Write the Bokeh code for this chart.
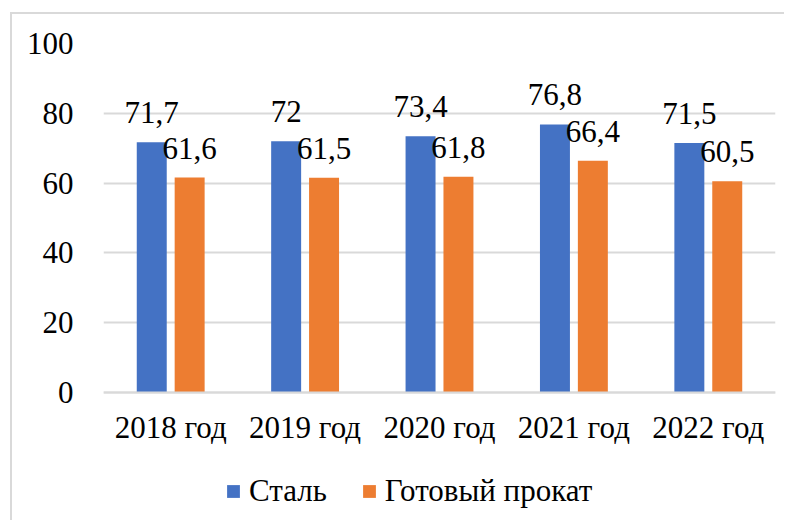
from bokeh.plotting import figure
from bokeh.models import ColumnDataSource, FactorRange, FixedTicker, LabelSet, Legend, LegendItem, Range1d
from bokeh.transform import dodge
from bokeh.embed import file_html
from bokeh.resources import INLINE

categories = ["2018 год", "2019 год", "2020 год", "2021 год", "2022 год"]
steel = [71.7, 72, 73.4, 76.8, 71.5]
rolled = [61.6, 61.5, 61.8, 66.4, 60.5]
steel_labels = ["71,7", "72", "73,4", "76,8", "71,5"]
rolled_labels = ["61,6", "61,5", "61,8", "66,4", "60,5"]
series_names = ["Сталь", "Готовый прокат"]
y_ticks = [0, 20, 40, 60, 80, 100]

FONT = "'Liberation Serif'"
FS = "31px"
BLUE = "#4472C4"
ORANGE = "#ED7D31"
GRID = "#d9d9d9"

src = ColumnDataSource(dict(cat=categories, steel=steel, rolled=rolled,
                            sl=steel_labels, rl=rolled_labels))

# frame extends below zero to leave room for category labels and legend
p = figure(x_range=FactorRange(*categories, range_padding=0), y_range=Range1d(-37.25, 100),
           width=774, height=508, output_backend="svg", toolbar_location=None,
           min_border_left=91, min_border_top=29, min_border_right=11, min_border_bottom=0)
p.margin = (12, 0, 0, 10)
p.styles = {"border-top": "2px solid #d9d9d9", "border-left": "2px solid #d9d9d9"}
p.outline_line_color = None

off = 0.141
w = 0.223
r1 = p.vbar(x=dodge("cat", -off, range=p.x_range), top="steel", width=w, source=src,
            fill_color=BLUE, line_color=None)
r2 = p.vbar(x=dodge("cat", off, range=p.x_range), top="rolled", width=w, source=src,
            fill_color=ORANGE, line_color=None)

for col, lab, dx in (("steel", "sl", -off), ("rolled", "rl", off)):
    ls = LabelSet(x=dodge("cat", dx, range=p.x_range), y=col, text=lab, source=src,
                  y_offset=19, text_align="center", text_baseline="alphabetic",
                  text_font=FONT, text_font_size=FS, text_color="black")
    p.add_layout(ls)

p.yaxis.ticker = FixedTicker(ticks=y_ticks)
p.yaxis.axis_line_color = None
p.yaxis.major_tick_line_color = None
p.yaxis.minor_tick_line_color = None
p.yaxis.major_label_text_font = FONT
p.yaxis.major_label_text_font_size = FS
p.yaxis.major_label_text_color = "black"
p.yaxis.major_label_standoff = 24

p.xaxis.fixed_location = 0
p.xaxis.axis_line_color = GRID
p.xaxis.axis_line_width = 2
p.xaxis.major_tick_line_color = None
p.xaxis.minor_tick_line_color = None
p.xaxis.major_label_text_font = FONT
p.xaxis.major_label_text_font_size = FS
p.xaxis.major_label_text_color = "black"
p.xaxis.major_label_standoff = 12

p.xgrid.grid_line_color = None
p.ygrid.grid_line_color = GRID
p.ygrid.grid_line_width = 2

legend = Legend(items=[LegendItem(label=series_names[0], renderers=[r1]),
                       LegendItem(label=series_names[1], renderers=[r2])],
                orientation="horizontal", location=(122, 13),
                glyph_width=16, glyph_height=16, label_standoff=8, spacing=34,
                padding=0, margin=0, border_line_color=None, background_fill_alpha=0,
                label_text_font=FONT, label_text_font_size=FS, label_text_color="black")
p.add_layout(legend, "center")

open("out.html", "w").write(file_html(p, INLINE))
